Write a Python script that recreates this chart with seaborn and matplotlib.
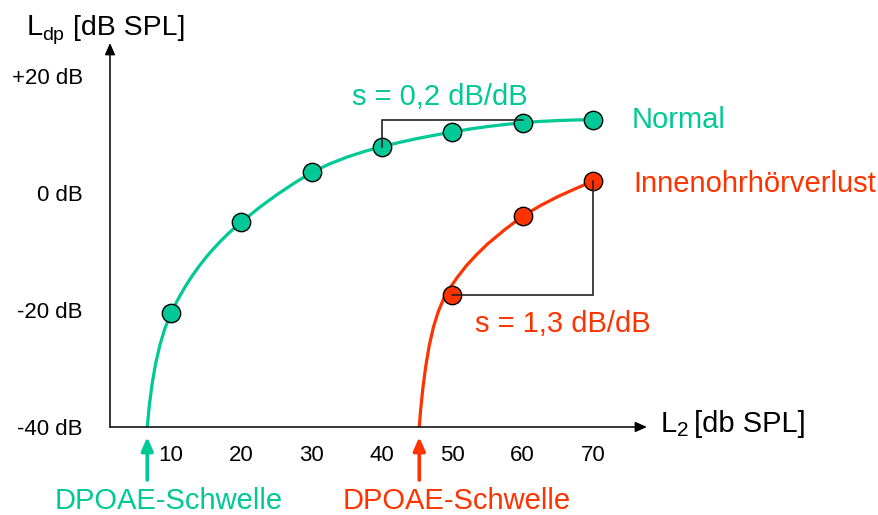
import numpy as np
import pandas as pd
import matplotlib
matplotlib.use("Agg")
import matplotlib.pyplot as plt
import seaborn as sns

# ---------------- data ----------------
l2_levels = [10, 20, 30, 40, 50, 60, 70]
normal_ldp = [-20.5, -5.0, 3.5, 7.9, 10.4, 12.0, 12.5]
loss_levels = [50, 60, 70]
loss_ldp = [-17.5, -4.0, 2.0]

# points
normal_curve_x = [6.6, 6.9, 7.3, 7.8, 8.4, 9.1, 10, 11, 12, 13, 14, 15, 16, 17, 18, 19, 20,
                  22.5, 25, 27.5, 30, 32.5, 35, 37.5, 40, 42.5, 45, 47.5, 50,
                  52.5, 55, 57.5, 60, 62.5, 65, 67.5, 70]
normal_curve_y = [-40, -36.25, -32.57, -29.12, -26.0, -23.2, -20.5, -18.12, -16.02, -14.16,
                  -12.49, -10.96, -9.58, -8.29, -7.1, -6.0, -5.0,
                  -2.55, -0.35, 1.65, 3.5, 4.925, 6.1, 7.075, 7.9, 8.625, 9.275, 9.85, 10.4,
                  10.9, 11.325, 11.675, 12.0, 12.2, 12.35, 12.45, 12.5]
loss_curve_x = [45.3, 45.5, 45.8, 46.2, 46.7, 47.3, 48.0, 48.8, 49.7, 50.7, 52, 53.5, 55,
                57.5, 60, 62.5, 65, 67.5, 70]
loss_curve_y = [-40, -37, -33.5, -29.8, -26.2, -23.0, -20.3, -18.0, -16.2, -14.45, -12.45,
                -10.5, -8.75, -6.25, -4.0, -2.2, -0.65, 0.7, 2.0]

xticks = [10, 20, 30, 40, 50, 60, 70]
xtick_labels = ["10", "20", "30", "40", "50", "60", "70"]
yticks = [-40, -20, 0, 20]
ytick_labels = ["-40 dB", "-20 dB", "0 dB", "+20 dB"]

GREEN = "#00C896"
RED = "#FF3300"

# ---------------- style ----------------
sns.set_theme(style="white")
plt.rcParams["font.family"] = ["Liberation Sans", "DejaVu Sans"]

W, H = 879, 515
fig = plt.figure(figsize=(W / 100, H / 100), dpi=100)
fig.patch.set_facecolor("white")
ax = fig.add_axes([110 / W, (H - 427) / H, 537 / W, 384 / H])
ax.set_facecolor("white")


def fpx(x, y):
    return x / W, 1 - y / H


df_nc = pd.DataFrame({"L2": normal_curve_x, "Ldp": normal_curve_y})
df_lc = pd.DataFrame({"L2": loss_curve_x, "Ldp": loss_curve_y})
df_np = pd.DataFrame({"L2": l2_levels, "Ldp": normal_ldp})
df_lp = pd.DataFrame({"L2": loss_levels, "Ldp": loss_ldp})

sns.lineplot(data=df_nc, x="L2", y="Ldp", color=GREEN, lw=2.3, ax=ax,
             sort=False, estimator=None, zorder=2)
sns.lineplot(data=df_lc, x="L2", y="Ldp", color=RED, lw=2.3, ax=ax,
             sort=False, estimator=None, zorder=2)
sns.scatterplot(data=df_np, x="L2", y="Ldp", color=GREEN, s=175,
                edgecolor="black", linewidth=1.0, ax=ax, zorder=3)
sns.scatterplot(data=df_lp, x="L2", y="Ldp", color=RED, s=175,
                edgecolor="black", linewidth=1.0, ax=ax, zorder=3)

# slope brackets
ax.plot([l2_levels[3], l2_levels[3], l2_levels[5]],
        [normal_ldp[3], normal_ldp[5] + 0.4, normal_ldp[5] + 0.4],
        color="#222222", lw=1.2, zorder=4, solid_joinstyle="miter")
ax.plot([loss_levels[0], loss_levels[2], loss_levels[2]],
        [loss_ldp[0], loss_ldp[0], loss_ldp[2]],
        color="#222222", lw=1.2, zorder=4, solid_joinstyle="miter")

ax.set_xlim(1.3, 77.7)
ax.set_ylim(-40, 25.6)
ax.set_xticks(xticks, labels=xtick_labels)
ax.set_yticks(yticks, labels=ytick_labels)
ax.tick_params(axis="both", direction="in", length=6.5, width=0.8,
               colors="black", labelsize=16)
ax.tick_params(axis="x", pad=13)
ax.tick_params(axis="y", pad=19.5)
ax.set_xlabel("")
ax.set_ylabel("")
for sp in ax.spines.values():
    sp.set_visible(False)

# axis arrows
arrow_style = "-|>,head_length=0.5,head_width=0.22"
ax.annotate("", xy=(1, 0), xytext=(0, 0), xycoords="axes fraction",
            arrowprops=dict(arrowstyle=arrow_style, color="black", lw=1.1,
                            mutation_scale=14, shrinkA=0, shrinkB=0),
            annotation_clip=False)
ax.annotate("", xy=(0, 1), xytext=(0, 0), xycoords="axes fraction",
            arrowprops=dict(arrowstyle=arrow_style, color="black", lw=1.1,
                            mutation_scale=14, shrinkA=0, shrinkB=0),
            annotation_clip=False)

# threshold arrows
for xthr, col in [(normal_curve_x[0], GREEN), (loss_curve_x[0], RED)]:
    ax.annotate("", xy=(xthr, H - 437), xytext=(xthr, H - 480),
                xycoords=("data", "figure pixels"),
                textcoords=("data", "figure pixels"),
                arrowprops=dict(arrowstyle=arrow_style, color=col, lw=2.6,
                                mutation_scale=16, shrinkA=0, shrinkB=0),
                annotation_clip=False)

# texts
fs = 21
# y axis label: L_dp [dB SPL]
fig.text(*fpx(27, 35), "L", ha="left", va="baseline", fontsize=fs, color="black")
fig.text(*fpx(42, 39.5), "dp", ha="left", va="baseline", fontsize=14, color="black")
fig.text(*fpx(73, 35), "[dB SPL]", ha="left", va="baseline", fontsize=20.5, color="black")
# x axis label: L2 [db SPL]
fig.text(*fpx(661, 431.7), "L", ha="left", va="baseline", fontsize=fs, color="black")
fig.text(*fpx(677, 436.5), "2", ha="left", va="baseline", fontsize=15, color="black")
fig.text(*fpx(694, 431.7), "[db SPL]", ha="left", va="baseline", fontsize=fs, color="black")

fig.text(*fpx(631.7, 127.7), "Normal", ha="left", va="baseline", fontsize=fs, color=GREEN)
fig.text(*fpx(633, 191.7), "Innenohrhörverlust", ha="left", va="baseline", fontsize=fs, color=RED)
fig.text(*fpx(352, 105), "s = 0,2 dB/dB", ha="left", va="baseline", fontsize=fs, color=GREEN)
fig.text(*fpx(475, 331.7), "s = 1,3 dB/dB", ha="left", va="baseline", fontsize=fs, color=RED)
fig.text(*fpx(55, 509.3), "DPOAE-Schwelle", ha="left", va="baseline", fontsize=fs, color=GREEN)
fig.text(*fpx(343, 509.3), "DPOAE-Schwelle", ha="left", va="baseline", fontsize=fs, color=RED)

fig.savefig("out.png", dpi=100, facecolor="white")
